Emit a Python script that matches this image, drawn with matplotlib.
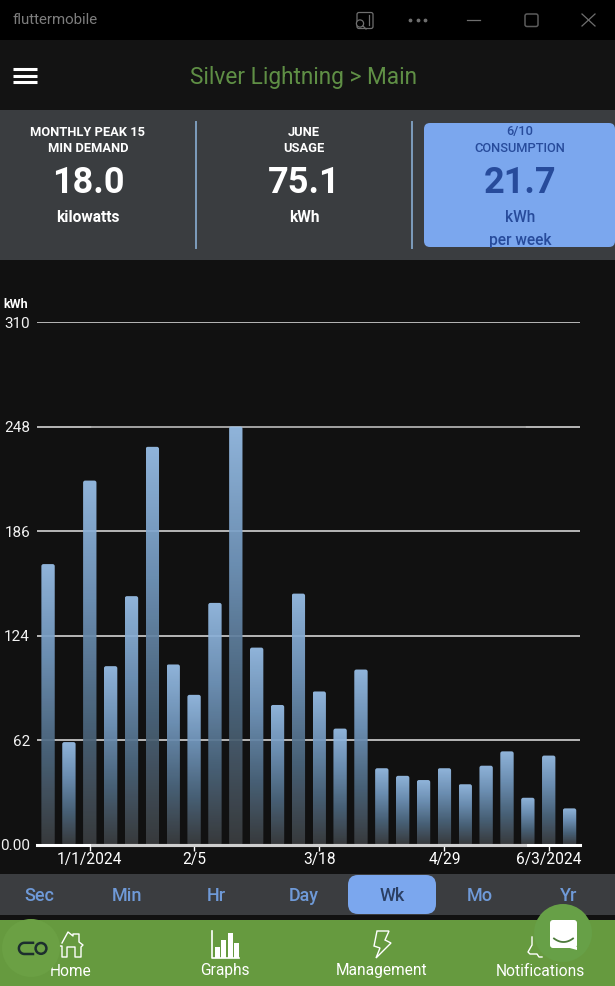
import numpy as np
import matplotlib
matplotlib.use('Agg')
import matplotlib.pyplot as plt
from matplotlib.patches import Rectangle, FancyBboxPatch, Circle, Polygon

plt.rcParams['font.family'] = ['Roboto', 'DejaVu Sans']

# weekly usage
weeks = np.arange(26)
usage = [166.5, 61, 216, 106, 147.5, 236, 107, 89, 143.5, 248, 117, 83, 149,
         91, 69, 104, 45.5, 41, 38.5, 45.5, 36, 47, 55.5, 28, 53, 21.7]
tick_weeks = [2, 7, 13, 19, 24]
tick_labels = ['1/1/2024', '2/5', '3/18', '4/29', '6/3/2024']
y_ticks = [0, 62, 124, 186, 248, 310]
y_labels = ['0.00', '62', '124', '186', '248', '310']
tabs = ['Sec', 'Min', 'Hr', 'Day', 'Wk', 'Mo', 'Yr']
nav_labels = ['Home', 'Graphs', 'Management', 'Notifications']

W, H = 615, 986
fig = plt.figure(figsize=(W / 100, H / 100), dpi=100, facecolor='#111111')

# page chrome in pixel coordinates
ui = fig.add_axes([0, 0, 1, 1])
ui.set_xlim(0, W)
ui.set_ylim(H, 0)
ui.axis('off')

def band(y0, y1, color):
    ui.add_patch(Rectangle((0, y0), W, y1 - y0, fc=color, ec='none', zorder=1))

band(0, 40, '#000000')
band(40, 110, '#131313')
band(110, 260, '#3a3d40')
band(874, 915, '#3b3d40')
band(920, 986, '#669a3f')

# title bar
ctl = '#6f6f6f'
ui.text(13, 20, 'fluttermobile', color='#7d7d7d', fontsize=10.9, va='center', zorder=3)
ui.add_patch(FancyBboxPatch((357, 12.5), 16, 16, boxstyle='round,pad=0,rounding_size=2',
                            fc='none', ec=ctl, lw=0.9, zorder=3))
ui.add_patch(Circle((360, 23.5), 3.6, fc='#000000', ec=ctl, lw=0.9, zorder=4))
ui.plot([363, 366], [26, 29], color=ctl, lw=0.9, zorder=4)
ui.plot([369, 369], [15, 25], color=ctl, lw=0.9, zorder=4)
ui.scatter([410, 418, 425], [20, 20, 20], s=3, color=ctl, zorder=3)
ui.plot([467, 480], [19.5, 19.5], color=ctl, lw=0.9, zorder=3)
ui.add_patch(FancyBboxPatch((525, 14), 13, 12.5, boxstyle='round,pad=0,rounding_size=2',
                            fc='none', ec='#5c5c5c', lw=1.1, zorder=3))
ui.plot([582, 595], [14, 26], color=ctl, lw=0.9, zorder=3)
ui.plot([582, 595], [26, 14], color=ctl, lw=0.9, zorder=3)

# header
for y in (69, 75.5, 82):
    ui.plot([13, 37], [y, y], color='white', lw=2.2, solid_capstyle='butt', zorder=3)
ui.text(304, 77.5, 'Silver Lightning > Main', color='#5f8f45', fontsize=16.3, ha='center',
        va='center', zorder=3)

# summary cards
ui.add_patch(FancyBboxPatch((424, 123), 191, 124, boxstyle='round,pad=0,rounding_size=6',
                            fc='#7ba7ee', ec='none', zorder=2))
ui.plot([196, 196], [122, 248], color='#7d9dbd', lw=1.4, zorder=3)
ui.plot([411.5, 411.5], [122, 248], color='#7d9dbd', lw=1.4, zorder=3)

def card(x, top, middle, value, unit, color, weight, extra=None):
    ui.text(x, 132, top, color=color, fontsize=9.3, fontweight=weight, ha='center', va='center', zorder=3)
    ui.text(x, 148, middle, color=color, fontsize=9.3, fontweight=weight, ha='center', va='center', zorder=3)
    ui.text(x, 183, value, color=color, fontsize=26, fontweight='bold', ha='center', va='center', zorder=3)
    ui.text(x, 217, unit, color=color, fontsize=11.2, fontweight=weight, ha='center', va='center', zorder=3)
    if extra:
        ui.text(x, 240, extra, color=color, fontsize=11.2, fontweight=weight, ha='center', va='center', zorder=3)

card(88, 'MONTHLY PEAK 15', 'MIN DEMAND', '18.0', 'kilowatts', 'white', 'bold')
card(304, 'JUNE', 'USAGE', '75.1', 'kWh', 'white', 'bold')
card(520, '6/10', 'CONSUMPTION', '21.7', 'kWh', '#274b9b', 'medium', extra='per week')

# chart
ax = fig.add_axes([37 / W, 1 - 845 / H, (580 - 37) / W, (845 - 322) / H])
ax.patch.set_alpha(0)
ax.set_yticks(y_ticks)
ax.set_yticklabels(y_labels)
ax.set_xticks(tick_weeks)
ax.set_xticklabels(tick_labels)
ax.tick_params(axis='x', colors='white', labelsize=11.2, length=4, width=1, pad=1)
ax.tick_params(axis='y', colors='#f2f2f2', labelsize=11, length=0, pad=5)
for s in ax.spines.values():
    s.set_visible(False)
for v in y_ticks[1:]:
    ax.axhline(v, color='#e4e4e4', lw=1.1, zorder=1)
ax.axhline(248, xmin=55 / 543, xmax=488 / 543, color='#9a9a9a', lw=1.2, zorder=1.1)
ax.axhline(0, color='white', lw=2.2, zorder=4, clip_on=False)
ax.axhline(0, xmin=55 / 543, xmax=488 / 543, color='#cfcfcf', lw=2.2, zorder=4.1, clip_on=False)

# each bar fades from light at its top to dark at its base
grad = np.linspace(0, 1, 256).reshape(-1, 1)
cmap = matplotlib.colors.LinearSegmentedColormap.from_list(
    'bar', ['#9ac1ea', '#7297bd', '#4d6880', '#3b3d3f'])
bars = ax.bar(weeks, usage, width=0.64, color='none', zorder=2)
for rect in bars:
    x, w, h = rect.get_x(), rect.get_width(), rect.get_height()
    im = ax.imshow(grad, extent=(x, x + w, 0, h), aspect='auto', cmap=cmap, vmin=0, vmax=1,
                   origin='upper', alpha=0.93, zorder=2)
    # about 2px corners, the aspect evens out the x and y scales
    clip = FancyBboxPatch((x, 0), w, h, boxstyle='round,pad=0,rounding_size=0.1',
                          mutation_aspect=12.36, transform=ax.transData)
    im.set_clip_path(clip)
ax.set_xlim(-0.53, 25.5)
ax.set_ylim(0, 310)

ui.text(3, 305, 'kWh', color='white', fontsize=9, fontweight='bold', va='center', zorder=3)

# range tabs
tab_x = [39, 127, 216, 304, 392, 480, 569]
ui.add_patch(FancyBboxPatch((348, 875), 88, 39, boxstyle='round,pad=0,rounding_size=10',
                            fc='#7ba7ee', ec='none', zorder=2))
for x, t in zip(tab_x, tabs):
    c = '#2b3f63' if t == 'Wk' else '#6f9ad8'
    ui.text(x, 896, t, color=c, fontsize=13, fontweight='medium', ha='center', va='center', zorder=3)

# bottom navigation
nav_x = [71, 225, 382, 540]
for x, t in zip(nav_x, nav_labels):
    ui.text(x, 971, t, color='white', fontsize=11.2, ha='center', va='center', zorder=3)
ui.plot([62, 68, 73, 73, 79, 79, 83, 81, 81, 75, 75, 67, 67, 62, 62, 60],
        [943, 932, 936, 934, 934, 942, 945, 947, 957, 957, 947, 947, 957, 957, 946, 946],
        color='white', lw=1, zorder=3)
ui.plot([212, 212, 239], [931, 957.5, 957.5], color='white', lw=1.2, zorder=3)
for x0, top in zip([214.5, 221, 227.5, 234], [947, 940, 933, 943]):
    ui.add_patch(Rectangle((x0, top), 5, 957.5 - top, fc='white', ec='none', zorder=3))
ui.add_patch(Polygon([(377, 931), (389, 931), (385, 940), (391, 943), (376, 958), (380, 948), (374, 946)],
                     closed=True, fc='none', ec='white', lw=1, zorder=3))
ui.plot([532, 532, 528, 530, 537, 539, 542], [937, 945, 952, 954, 954, 957, 957],
        color='white', lw=1, zorder=3)

# floating buttons
ui.add_patch(Circle((31, 948), 29, fc='#6ba044', ec='none', zorder=5))
arc = np.linspace(np.pi / 2, 3 * np.pi / 2, 30)
ui.plot(np.r_[33, 24.5 + 5.6 * np.cos(arc), 33], np.r_[942.8, 948.4 - 5.6 * np.sin(arc), 954],
        color='#1c2e2e', lw=1.8, zorder=6)
ui.add_patch(Circle((41, 948.4), 5.4, fc='none', ec='#1c2e2e', lw=1.8, zorder=6))
ui.add_patch(Circle((563, 933), 29, fc='#67a047', ec='none', zorder=5))
ui.add_patch(FancyBboxPatch((550, 920), 27, 28, boxstyle='round,pad=0,rounding_size=3',
                            fc='white', ec='none', zorder=6))
ui.add_patch(Polygon([(566, 947), (577, 947), (577, 950)], closed=True, fc='white', ec='none', zorder=6))
smile = np.linspace(-1, 1, 20)
ui.plot(563.5 + 9.5 * smile, 942 - 3.5 * smile ** 2, color='#4c7a3a', lw=1.3, zorder=7)
ui.set_xlim(0, W)
ui.set_ylim(H, 0)

fig.savefig('out.png', dpi=100, facecolor=fig.get_facecolor())
